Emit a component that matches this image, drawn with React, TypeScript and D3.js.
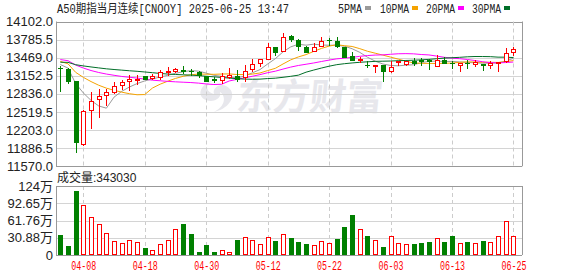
import React from "react";
import * as d3 from "d3";

const title = "A50期指当月连续[CNOOY] 2025-06-25 13:47";
const volLabel = "成交量:343030";
const maNames = ["5PMA", "10PMA", "20PMA", "30PMA"];
const maPeriods = [5, 10, 20, 30];
const maColors = ["#9a9a9a", "#f5a300", "#ff00ff", "#006e28"];

const dateLabels = ["04-08", "04-18", "04-30", "05-12", "05-22", "06-03", "06-13", "06-25"];
const dateIdx = [3, 11, 19, 27, 35, 43, 51, 59];

const priceTicks = [11570.0, 11886.5, 12203.0, 12519.5, 12836.0, 13152.5, 13469.0, 13785.5, 14102.0];
const volTicks = [0, 30.88, 61.76, 92.65, 123.52];
const volTickLabels = ["0", "30.88万", "61.76万", "92.65万", "124万"];

// closes before the visible window (needed for the moving averages)
const priorCloses = [
  13150, 13220, 13180, 13260, 13300, 13350, 13330, 13380, 13420, 13390,
  13450, 13520, 13600, 13580, 13490, 13420, 13400, 13450, 13380, 13390,
  13480, 13500, 13420, 13450, 13440, 13380, 13350, 13370, 13365,
];

const opens = [
  13295, 13278, 13068, 11956, 12551, 12743, 12813, 12871, 12988, 13058,
  13086, 13145, 13116, 13133, 13215, 13233, 13255, 13240, 13215, 13145,
  13090, 13075, 13133, 13150, 13133, 13268, 13373, 13453, 13652, 13583,
  13845, 13780, 13663, 13583, 13675, 13772, 13757, 13658, 13495, 13436,
  13350, 13335, 13338, 13233, 13400, 13355, 13408, 13425, 13427, 13320,
  13436, 13380, 13338, 13385, 13360, 13353, 13338, 13385, 13408, 13570,
];
const closes = [
  13285, 13068, 12002, 12544, 12713, 12801, 12871, 12970, 13046, 13093,
  13103, 13103, 13142, 13215, 13243, 13278, 13245, 13233, 13173, 13068,
  13084, 13156, 13163, 13105, 13233, 13360, 13443, 13652, 13570, 13827,
  13798, 13675, 13570, 13658, 13757, 13772, 13680, 13483, 13436, 13440,
  13347, 13338, 13233, 13308, 13408, 13405, 13373, 13420, 13420, 13425,
  13378, 13376, 13373, 13380, 13390, 13348, 13378, 13390, 13553, 13623,
];
const highs = [
  13320, 13290, 13068, 12560, 12871, 12918, 12923, 13046, 13075, 13163,
  13168, 13150, 13186, 13261, 13303, 13290, 13320, 13278, 13243, 13150,
  13128, 13203, 13290, 13255, 13338, 13448, 13453, 13728, 13660, 13903,
  13862, 13790, 13670, 13728, 13833, 13815, 13827, 13660, 13570, 13478,
  13418, 13340, 13340, 13408, 13410, 13420, 13465, 13465, 13453, 13513,
  13478, 13408, 13375, 13425, 13425, 13360, 13408, 13395, 13640, 13652,
];
const lows = [
  12893, 13023, 11816, 11940, 12246, 12439, 12649, 12858, 12928, 12911,
  13016, 13098, 13103, 13103, 13173, 13225, 13203, 13173, 13128, 13060,
  13046, 13028, 13116, 13058, 13058, 13233, 13320, 13443, 13523, 13580,
  13768, 13611, 13560, 13583, 13675, 13698, 13658, 13475, 13436, 13396,
  13303, 13215, 13068, 13221, 13338, 13350, 13348, 13348, 13278, 13320,
  13375, 13290, 13243, 13290, 13320, 13261, 13290, 13243, 13400, 13523,
];
// volume in 万
const volumes = [
  35.7, 16.1, 114, 89.3, 67.3, 54.8, 38.7, 25, 20.8, 26.2,
  23.2, 12.5, 8.3, 19.6, 26.8, 45.9, 55.3, 37.5, 5.4, 17.3,
  5.4, 8.9, 4.8, 26.8, 31.6, 26.8, 19.1, 31.6, 25, 36.9,
  30.3, 23.2, 19.6, 17.3, 25, 21.4, 28.6, 50, 71.4, 46.4,
  33.9, 26.8, 14.3, 33.4, 21.4, 19.6, 19.6, 21.4, 23.2, 29.8,
  23.2, 33.9, 21.4, 23.2, 21.4, 25, 23.2, 33.4, 60.2, 34.303,
];

const RED = "#ff0000";
const GREEN = "#008000";
const GRID = "#d4d4d4";
const BORDER = "#999999";

const L = 56, R = 522;
const MT = 21.5, MB = 166.3;
const VT = 186, VB = 255;

export default function App() {
  const n = closes.length;
  const x = d3.scaleLinear().domain([0, n - 1]).range([60.3, 513.4]);
  const y = d3.scaleLinear().domain([11570, 14102]).range([MB, MT]);
  const yv = d3.scaleLinear().domain([0, 123.52]).range([VB, VT]);

  const all = priorCloses.concat(closes);
  const off = priorCloses.length;
  const mas = maPeriods.map((p) =>
    closes.map((_, i) => {
      const end = i + off;
      const slice = all.slice(end - p + 1, end + 1);
      return d3.mean(slice) as number;
    })
  );
  const line = d3
    .line<number>()
    .x((_, i) => x(i))
    .y((d) => y(d));

  const px = (v: number) => Math.round(v) + 0.5;
  const sans = "'Liberation Sans', Arial, 'Noto Sans CJK SC', sans-serif";
  const mono = "'Liberation Mono', 'Noto Sans CJK SC', monospace";

  const legendX = [338, 380, 426, 472];
  const legendW = [24, 29, 29, 29];

  return (
    <svg width={578} height={276} style={{ position: "absolute", left: 0, top: 0, background: "#fff" }}>
      <defs>
        <clipPath id="mainClip">
          <rect x={L} y={MT} width={R - L} height={MB - MT} />
        </clipPath>
      </defs>
      <rect x={0} y={0} width={578} height={276} fill="#fff" />

      {/* title and legend */}
      <text x={57} y={12.5} fontFamily={mono} fontSize={12} fill="#222" textLength={232} lengthAdjust="spacingAndGlyphs">
        {title}
      </text>
      {maNames.map((nm, k) => (
        <g key={nm}>
          <text x={legendX[k]} y={12.5} fontFamily={mono} fontSize={12} fill="#222" textLength={legendW[k]} lengthAdjust="spacingAndGlyphs">
            {nm}
          </text>
          <rect x={legendX[k] + legendW[k] + 3} y={6} width={6} height={4} fill={maColors[k]} />
        </g>
      ))}

      {/* watermark */}
      <g fill="#e7e7ec">
        <path d="M214,80 C200,84 196,96 206,100 C214,103 222,98 220,92 C226,96 226,106 214,112 C232,108 238,92 226,86 C220,83 212,88 214,94 C206,92 204,84 214,80 Z" />
        <text x={236} y={110} fontFamily="'Noto Sans CJK SC', sans-serif" fontWeight={700} fontSize={37} textLength={146} lengthAdjust="spacingAndGlyphs" transform="skewX(-6) translate(11,0)">
          东方财富
        </text>
      </g>

      {/* main grid */}
      {priceTicks.map((t, k) => (
        <line key={"pg" + k} x1={L} x2={R} y1={px(y(t))} y2={px(y(t))} stroke={k === 0 || k === priceTicks.length - 1 ? BORDER : GRID} strokeWidth={1} />
      ))}
      {dateIdx.map((di, k) => (
        <g key={"vg" + k}>
          <line x1={px(x(di))} x2={px(x(di))} y1={MT} y2={MB} stroke="#cccccc" strokeDasharray="4,3" />
          <line x1={px(x(di))} x2={px(x(di))} y1={VT} y2={VB} stroke="#cccccc" strokeDasharray="4,3" />
        </g>
      ))}
      <line x1={px(L)} x2={px(L)} y1={MT} y2={MB} stroke={BORDER} />
      <line x1={px(R)} x2={px(R)} y1={MT} y2={MB} stroke={BORDER} />

      {priceTicks.map((t, k) => (
        <text key={"pl" + k} x={53} y={y(t)} dy="0.35em" textAnchor="end" fontFamily={sans} fontSize={13} fill="#222">
          {t.toFixed(1)}
        </text>
      ))}

      {/* moving averages */}
      <g clipPath="url(#mainClip)">
        {mas.map((m, k) => (
          <path key={"ma" + k} d={line(m) || ""} fill="none" stroke={maColors[k]} strokeWidth={1} />
        ))}
      </g>

      {/* candles */}
      <g clipPath="url(#mainClip)">
        {closes.map((c, i) => {
          const o = opens[i];
          const cx = Math.round(x(i));
          const wx = cx + 0.5;
          const yo = Math.round(y(o));
          const yc = Math.round(y(c));
          const yh = Math.round(y(highs[i]));
          const yl = Math.round(y(lows[i]));
          if (c > o) {
            const top = yc, bot = yo;
            return (
              <g key={"c" + i} stroke={RED} strokeWidth={1}>
                <line x1={wx} x2={wx} y1={yh} y2={top} />
                <line x1={wx} x2={wx} y1={bot + 1} y2={yl + 1} />
                <rect x={cx - 1.5} y={top + 0.5} width={4} height={Math.max(bot - top, 1)} fill="#fff" />
              </g>
            );
          }
          const col = c === o ? GREEN : GREEN;
          const top = yo, bot = yc;
          return (
            <g key={"c" + i}>
              <line x1={wx} x2={wx} y1={yh} y2={yl + 1} stroke={col} />
              {bot - top < 1 ? (
                <line x1={cx - 2} x2={cx + 3} y1={top + 0.5} y2={top + 0.5} stroke={col} />
              ) : (
                <rect x={cx - 2} y={top} width={5} height={bot - top + 1} fill={col} />
              )}
            </g>
          );
        })}
      </g>

      {/* volume panel */}
      <line x1={L} x2={R} y1={px(MB)} y2={px(MB)} stroke={BORDER} />
      <text x={57} y={182} fontFamily={sans} fontSize={12} fill="#222">
        {volLabel}
      </text>
      {volTicks.map((t, k) => (
        <line key={"vgl" + k} x1={L} x2={R} y1={px(yv(t))} y2={px(yv(t))} stroke={k === 0 || k === volTicks.length - 1 ? BORDER : GRID} />
      ))}
      <line x1={px(L)} x2={px(L)} y1={VT} y2={VB} stroke={BORDER} />
      <line x1={px(R)} x2={px(R)} y1={VT} y2={VB} stroke={BORDER} />
      {volTicks.map((t, k) => (
        <text key={"vl" + k} x={53} y={yv(t)} dy="0.35em" textAnchor="end" fontFamily={sans} fontSize={13} fill="#222">
          {volTickLabels[k]}
        </text>
      ))}
      {volumes.map((v, i) => {
        const up = closes[i] >= opens[i];
        const cx = Math.round(x(i));
        const top = Math.round(yv(v));
        const bot = Math.round(yv(0));
        return up ? (
          <rect key={"v" + i} x={cx - 1.5} y={top + 0.5} width={4} height={bot - top - 1} fill="#fff" stroke={RED} />
        ) : (
          <rect key={"v" + i} x={cx - 2} y={top} width={5} height={bot - top} fill={GREEN} />
        );
      })}

      {/* date labels */}
      {dateIdx.map((di, k) => (
        <text key={"dl" + k} x={x(di) + 0.5 - 12.5} y={270} fontFamily={mono} fontSize={13} fill={RED} textLength={25} lengthAdjust="spacingAndGlyphs">
          {dateLabels[k]}
        </text>
      ))}
    </svg>
  );
}
